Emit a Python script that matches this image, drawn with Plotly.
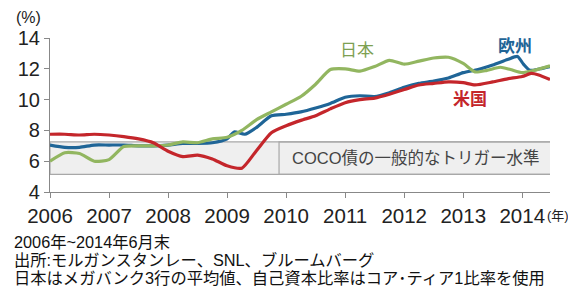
import plotly.graph_objects as go

# ---- data ----
years = [2006, 2007, 2008, 2009, 2010, 2011, 2012, 2013, 2014]
year_labels = ["2006", "2007", "2008", "2009", "2010", "2011", "2012", "2013", "2014"]

japan_x = [2006.0, 2006.25, 2006.5, 2006.75, 2007.0, 2007.25, 2007.5, 2007.75, 2008.0, 2008.25,
           2008.5, 2008.75, 2009.0, 2009.25, 2009.5, 2009.75, 2010.0, 2010.25, 2010.5, 2010.75,
           2011.0, 2011.25, 2011.5, 2011.75, 2012.0, 2012.25, 2012.5, 2012.75, 2013.0, 2013.2,
           2013.4, 2013.63, 2013.8, 2014.0, 2014.2, 2014.47]
japan_y = [6.0, 6.55, 6.5, 6.0, 6.1, 6.95, 7.0, 7.0, 7.05, 7.25,
           7.2, 7.45, 7.55, 8.0, 8.7, 9.2, 9.7, 10.2, 11.0, 11.95,
           12.0, 11.85, 12.15, 12.55, 12.3, 12.5, 12.7, 12.75, 12.35, 11.8,
           11.9, 12.1, 11.95, 11.75, 11.9, 12.2]

europe_x = [2006.0, 2006.25, 2006.5, 2006.75, 2007.0, 2007.25, 2007.5, 2007.75, 2008.0, 2008.25,
            2008.5, 2008.75, 2009.0, 2009.12, 2009.3, 2009.5, 2009.75, 2010.0, 2010.25, 2010.5,
            2010.75, 2011.0, 2011.25, 2011.5, 2011.75, 2012.0, 2012.25, 2012.5, 2012.75, 2013.0,
            2013.25, 2013.5, 2013.75, 2013.92, 2014.02, 2014.13, 2014.3, 2014.47]
europe_y = [7.05, 6.9, 6.9, 7.05, 7.05, 7.05, 7.0, 7.0, 7.05, 7.15,
            7.15, 7.2, 7.45, 7.9, 7.75, 8.2, 8.95, 9.05, 9.2, 9.45,
            9.75, 10.15, 10.25, 10.2, 10.45, 10.8, 11.05, 11.2, 11.4, 11.75,
            11.95, 12.25, 12.6, 12.8, 12.3, 11.9, 12.0, 12.15]

us_x = [2006.0, 2006.25, 2006.5, 2006.75, 2007.0, 2007.25, 2007.5, 2007.75, 2008.0, 2008.25,
        2008.5, 2008.75, 2009.0, 2009.25, 2009.5, 2009.75, 2010.0, 2010.25, 2010.5, 2010.75,
        2011.0, 2011.25, 2011.5, 2011.75, 2012.0, 2012.25, 2012.5, 2012.75, 2013.0, 2013.2,
        2013.5, 2013.75, 2014.0, 2014.15, 2014.28, 2014.47]
us_y = [7.75, 7.75, 7.7, 7.75, 7.7, 7.6, 7.45, 7.2, 6.65, 6.3,
        6.4, 6.15, 5.7, 5.55, 6.7, 7.85, 8.3, 8.65, 8.95, 9.4,
        9.8, 10.0, 10.1, 10.35, 10.65, 10.95, 11.05, 11.15, 11.1, 10.95,
        11.15, 11.35, 11.5, 11.7, 11.6, 11.3]

band_low, band_high = 5.15, 7.25
band_label = "COCO債の一般的なトリガー水準"
notes = ["2006年~2014年6月末",
         "出所:モルガンスタンレー、SNL、ブルームバーグ",
         "日本はメガバンク3行の平均値、自己資本比率はコア･ティア1比率を使用"]

FONT = "Liberation Sans, Arial, Noto Sans CJK JP, sans-serif"
GREEN, BLUE, RED = "#92b660", "#1f6597", "#c4262b"

fig = go.Figure()

# band
fig.add_shape(type="rect", xref="x", yref="y", x0=2006, x1=2014.61, y0=band_low, y1=band_high,
              fillcolor="#efefef", line=dict(color="#a8a8a8", width=1.2), layer="below")
fig.add_shape(type="rect", xref="x", yref="y", x0=2009.88, x1=2014.61, y0=band_low, y1=band_high,
              fillcolor="rgba(0,0,0,0)", line=dict(color="#a8a8a8", width=1.2), layer="below")

for xs, ys, c in [(europe_x, europe_y, BLUE), (japan_x, japan_y, GREEN), (us_x, us_y, RED)]:
    fig.add_trace(go.Scatter(x=xs, y=ys, mode="lines",
                             line=dict(color=c, width=3.2, shape="spline", smoothing=0.6),
                             showlegend=False, hoverinfo="skip"))

fig.add_annotation(x=2012.2, y=6.2, xref="x", yref="y", text=band_label, showarrow=False,
                   font=dict(family=FONT, size=16.5, color="#444"))

fig.add_annotation(x=2011.2, y=13.2, text="日本", showarrow=False,
                   font=dict(family=FONT, size=17, color="#7ea052"))
fig.add_annotation(x=2013.88, y=13.45, text="<b>欧州</b>", showarrow=False,
                   font=dict(family=FONT, size=17, color=BLUE))
fig.add_annotation(x=2013.12, y=10.0, text="<b>米国</b>", showarrow=False,
                   font=dict(family=FONT, size=17, color=RED))

fig.add_annotation(x=-0.044, y=1.135, xref="paper", yref="paper", text="(%)", showarrow=False,
                   xanchor="center", yanchor="middle",
                   font=dict(family=FONT, size=16, color="#222"))
fig.add_annotation(x=0.99, y=-0.15, xref="paper", yref="paper", text="(年)", showarrow=False,
                   xanchor="left", yanchor="middle", font=dict(family=FONT, size=13, color="#222"))

for i, t in enumerate(notes):
    py = 242 + 18 * i
    fig.add_annotation(x=-0.076, y=(192 - py) / 154, xref="paper", yref="paper", text=t,
                       showarrow=False, xanchor="left", yanchor="middle",
                       font=dict(family=FONT, size=16.3, color="#111"))

fig.update_layout(
    width=568, height=293,
    margin=dict(l=50, r=18, t=38, b=101),
    paper_bgcolor="white", plot_bgcolor="white",
    xaxis=dict(range=[2006, 2014.47], tickvals=years, ticktext=year_labels,
               showline=True, linecolor="#888", linewidth=1.2, ticks="outside", ticklen=5,
               tickcolor="#888", showgrid=False, zeroline=False,
               tickfont=dict(family=FONT, size=20.5, color="#222")),
    yaxis=dict(range=[4, 14], tickvals=[4, 6, 8, 10, 12, 14],
               showline=True, linecolor="#888", linewidth=1.2, ticks="outside", ticklen=5,
               tickcolor="#888", showgrid=False, zeroline=False,
               tickfont=dict(family=FONT, size=20, color="#222")),
)

fig.write_html("out.html", config={"displayModeBar": False},
               post_script="document.body.style.margin='0';document.body.style.padding='0';")
